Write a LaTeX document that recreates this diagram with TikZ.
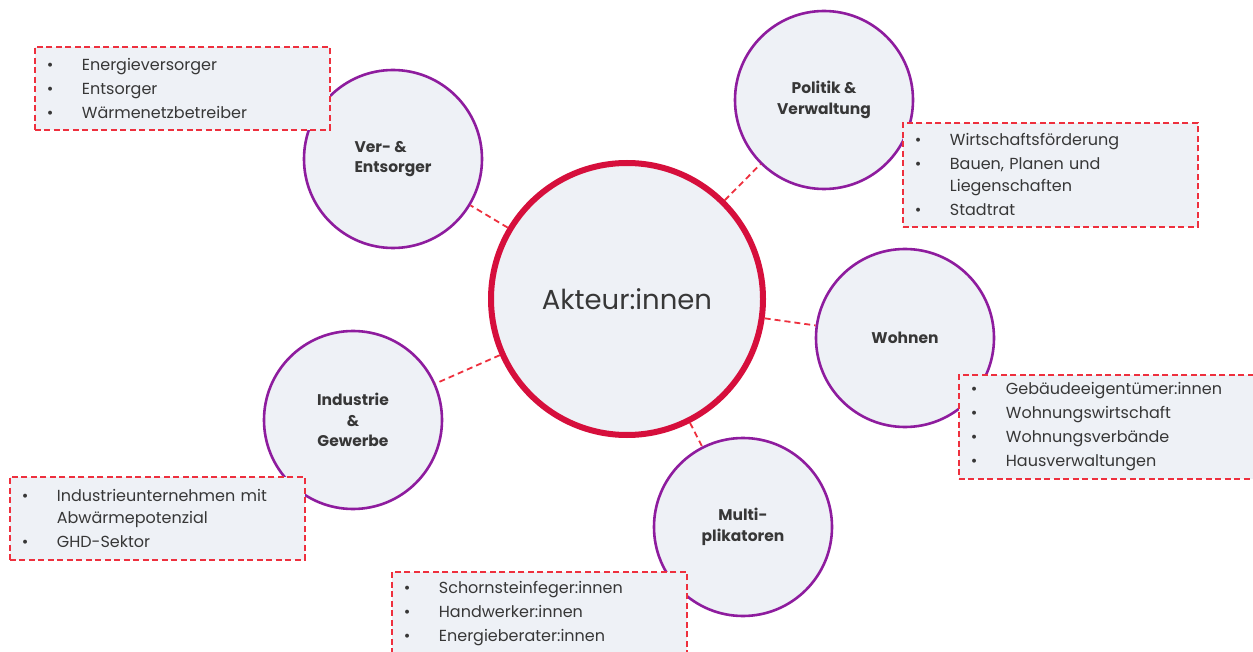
\documentclass[tikz,border=0pt]{standalone}
\usepackage{fontspec}
\setmainfont{Poppins}
\definecolor{bgfill}{RGB}{238,241,246}
\definecolor{purp}{RGB}{142,28,158}
\definecolor{crim}{RGB}{214,15,60}
\definecolor{boxred}{RGB}{238,48,62}
\definecolor{txt}{RGB}{55,55,55}
\newcommand\bitem[1]{\makebox[35pt][l]{•}#1}
\begin{document}
\begin{tikzpicture}[x=1pt,y=-1pt,
  actor/.style={circle, draw=purp, line width=2.6pt, fill=bgfill, minimum size=178pt, inner sep=0pt,
    font=\fontsize{15.5}{20.5}\selectfont\bfseries, text=txt, align=center},
  hubnode/.style={circle, draw=crim, line width=6pt, fill=bgfill, minimum size=272pt, inner sep=0pt,
    font=\fontsize{27.5}{30}\selectfont, text=txt},
  listbox/.style={rectangle, draw=boxred, line width=1.8pt, dash pattern=on 6pt off 3.5pt, fill=bgfill,
    anchor=north west, minimum width=295pt, inner xsep=12pt, inner ysep=0pt, text width=271pt,
    align=left, font=\fontsize{16}{24}\selectfont, text=txt},
  link/.style={draw=boxred, line width=1.8pt, dash pattern=on 6pt off 4pt}]
\useasboundingbox (0,0) rectangle (1253,652);
\fill[white] (0,0) rectangle (1253,652);

% circles
\node[hubnode] (hub) at (627,299) {Akteur:innen};
\node[actor, align=left] (ver) at (393,159) {Ver- \&\\Entsorger};
\node[actor] (pol) at (824,100) {Politik \&\\Verwaltung};
\node[actor] (woh) at (905,338) {Wohnen};
\node[actor] (mul) at (743,527) {Multi-\\plikatoren};
\node[actor] (ind) at (353,420) {Industrie\\\&\\Gewerbe};

% connectors
\draw[link] (hub) -- (ver);
\draw[link] (hub) -- (pol);
\draw[link] (hub) -- (woh);
\draw[link] (hub) -- (mul);
\draw[link] (hub) -- (ind);

% boxes
\node[listbox, minimum height=83pt] (bver) at (34,46)
  {\bitem{Energieversorger}\\\bitem{Entsorger}\\\bitem{Wärmenetzbetreiber}};
\node[listbox, minimum height=104pt] (bpol) at (902,122)
  {\bitem{Wirtschaftsförderung}\\\bitem{Bauen, Planen und}\\[-2pt]\hspace*{35pt}Liegenschaften\\\bitem{Stadtrat}};
\node[listbox, minimum height=104pt] (bwoh) at (958,374)
  {\bitem{Gebäudeeigentümer:innen}\\\bitem{Wohnungswirtschaft}\\\bitem{Wohnungsverbände}\\\bitem{Hausverwaltungen}};
\node[listbox, minimum height=83pt] (bind) at (9,476)
  {\bitem{Industrieunternehmen mit}\\[-2pt]\hspace*{35pt}Abwärmepotenzial\\\bitem{GHD-Sektor}};
\node[listbox, minimum height=84pt] (bmul) at (391,571)
  {\bitem{Schornsteinfeger:innen}\\\bitem{Handwerker:innen}\\\bitem{Energieberater:innen}};
\end{tikzpicture}
\end{document}
